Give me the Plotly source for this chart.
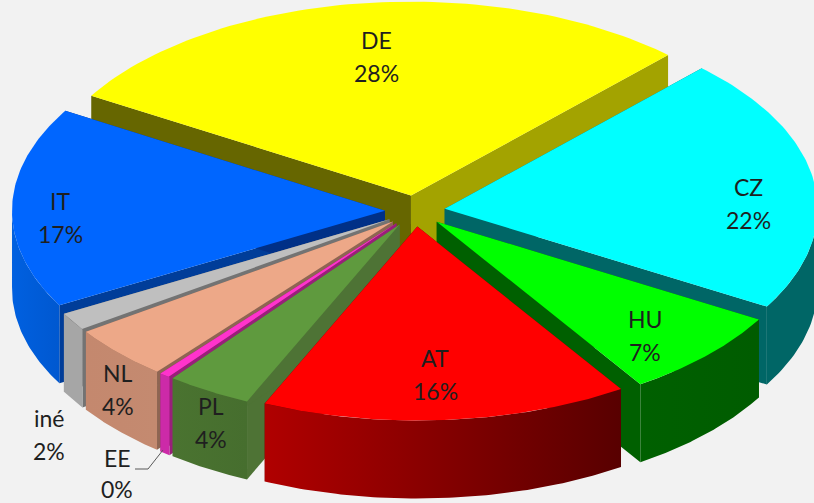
import numpy as np
import plotly.graph_objects as go

# ---- data (clockwise, starting with DE) ----
categories = ["DE", "CZ", "HU", "AT", "PL", "EE", "NL", "iné", "IT"]
shares = [28.49, 21.3, 7.4, 15.9, 3.7, 0.49, 4.49, 1.5, 16.72]
percent_labels = ["28%", "22%", "7%", "16%", "4%", "0%", "4%", "2%", "17%"]

# ---- styles ----
top_colors = ["#FFFF00", "#00FFFF", "#00FF00", "#FF0000", "#5F9A3E", "#FF33CC", "#EDA888", "#BFBFBF", "#0066FF"]
wall_start = ["#666600", "#006666", "#006000", "#5A0000", "#4E7335", "#991F7A", "#8E6552", "#737373", "#003D99"]
wall_end = ["#A3A300", "#006666", "#006000", "#5A0000", "#4E7335", "#991F7A", "#8E6552", "#737373", "#003087"]
arc_left = ["#666600", "#006666", "#006000", "#B00000", "#4A7330", "#CC2AA8", "#C4886E", "#A6A6A6", "#0060E0"]
arc_right = ["#666600", "#006666", "#005C00", "#580000", "#466E2E", "#CC2AA8", "#C48A70", "#A6A6A6", "#0058D0"]
draw_order = ["DE", "CZ", "IT", "iné", "NL", "EE", "PL", "HU", "AT"]
label_pos = {"DE": (376, 40), "CZ": (748, 187), "HU": (645, 319), "AT": (435, 358), "PL": (211, 406),
             "EE": (117, 458), "NL": (118, 373), "iné": (49, 418), "IT": (60, 201)}

CX, CY, R, K, EXPLODE, DEPTH, START = 415, 211, 373, 0.52, 30, 78, -59
LINE_GAP = 33

# ---- geometry from the values ----
frac = np.array(shares) / sum(shares) * 360
edges = START + np.concatenate([[0], np.cumsum(frac)])


def project(theta_deg, radius, ox, oy):
    t = np.radians(theta_deg)
    return ox + radius * np.sin(t), oy - K * radius * np.cos(t)


def poly(fig, xs, ys, color=None, gradient=None):
    xs = list(xs) + [xs[0]]
    ys = list(ys) + [ys[0]]
    kw = dict(fillgradient=dict(type="horizontal", colorscale=[[0, gradient[0]], [1, gradient[1]]])) if gradient else dict(fillcolor=color)
    fig.add_trace(go.Scatter(x=xs, y=ys, mode="lines", fill="toself", line=dict(width=0),
                             hoverinfo="skip", showlegend=False, **kw))


fig = go.Figure()
for name in draw_order:
    i = categories.index(name)
    a0, a1 = edges[i], edges[i + 1]
    mid = np.radians((a0 + a1) / 2)
    ox = CX + EXPLODE * np.sin(mid)
    oy = CY - K * EXPLODE * np.cos(mid)
    thetas = np.linspace(a0, a1, 80)
    ax, ay = project(thetas, R, ox, oy)
    # radial walls
    poly(fig, [ox, ax[0], ax[0], ox], [oy, ay[0], ay[0] + DEPTH, oy + DEPTH], wall_start[i])
    poly(fig, [ox, ax[-1], ax[-1], ox], [oy, ay[-1], ay[-1] + DEPTH, oy + DEPTH], wall_end[i])
    # outer wall (front part only)
    front = np.cos(np.radians(thetas)) < 0.02
    if front.any():
        fx, fy = ax[front], ay[front]
        poly(fig, list(fx) + list(fx[::-1]), list(fy) + list((fy + DEPTH)[::-1]),
             gradient=(arc_left[i], arc_right[i]))
    # top face
    poly(fig, [ox] + list(ax), [oy] + list(ay), top_colors[i])

# leader line of the EE label
fig.add_trace(go.Scatter(x=[135, 148, 163], y=[469, 469, 450], mode="lines",
                         line=dict(color="#595959", width=1), hoverinfo="skip", showlegend=False))

font = dict(family="Lato, Carlito, Calibri, sans-serif", size=23, color="#1F1F1F")
annotations = []
for name, pct in zip(categories, percent_labels):
    x, y = label_pos[name]
    gap = 31 if name == "EE" else LINE_GAP
    for text, yy in ((name, y), (pct, y + gap)):
        annotations.append(dict(x=x, y=yy, text=text, showarrow=False, font=font,
                                xanchor="center", yanchor="middle"))

fig.update_layout(
    width=814, height=503, margin=dict(l=0, r=0, t=0, b=0),
    paper_bgcolor="#F2F2F2", plot_bgcolor="#F2F2F2", showlegend=False,
    xaxis=dict(range=[0, 814], visible=False, fixedrange=True),
    yaxis=dict(range=[503, 0], visible=False, fixedrange=True),
    annotations=annotations,
)
fig.write_html("out.html", config={"displayModeBar": False},
               post_script="document.body.style.margin='0';document.documentElement.style.overflow='hidden';")
